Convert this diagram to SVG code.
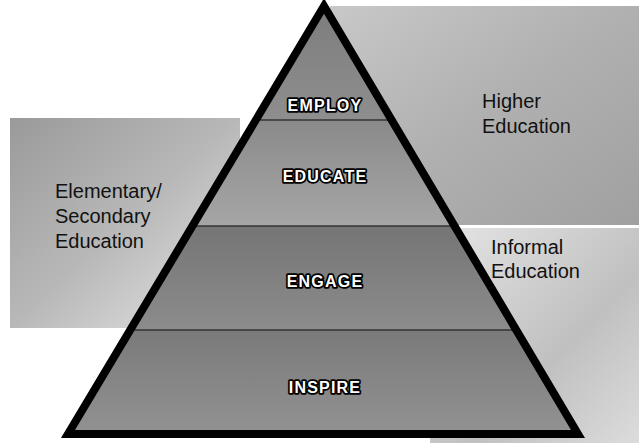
<svg xmlns="http://www.w3.org/2000/svg" width="639" height="443" viewBox="0 0 639 443">
<style>
.side{font-family:"Liberation Sans",Arial,sans-serif;font-size:20px;fill:#111}
.lvl{font-family:"Liberation Sans",Arial,sans-serif;font-size:16px;font-weight:bold;letter-spacing:1.2px;fill:#fff;stroke:#000;stroke-width:3.5px;paint-order:stroke;stroke-linejoin:round;text-anchor:middle}
.div{stroke:#333;stroke-width:1.5}
</style>
<defs>
<linearGradient id="gL" x1="0" y1="0" x2="1" y2="1">
<stop offset="0" stop-color="#9a9a9a"/>
<stop offset="0.5" stop-color="#b8b8b8"/>
<stop offset="1" stop-color="#e8e8e8"/>
</linearGradient>
<linearGradient id="gR" x1="0" y1="0" x2="1" y2="1">
<stop offset="0" stop-color="#c8c8c8"/>
<stop offset="0.5" stop-color="#b0b0b0"/>
<stop offset="1" stop-color="#a0a0a0"/>
</linearGradient>
<linearGradient id="gI" x1="0" y1="0" x2="1" y2="1">
<stop offset="0" stop-color="#e6e6e6"/>
<stop offset="0.6" stop-color="#c0c0c0"/>
<stop offset="1" stop-color="#dcdcdc"/>
</linearGradient>
<linearGradient id="gB1" x1="0" y1="0" x2="0" y2="1">
<stop offset="0" stop-color="#7c7c7c"/>
<stop offset="1" stop-color="#8e8e8e"/>
</linearGradient>
<linearGradient id="gB2" x1="0" y1="0" x2="0" y2="1">
<stop offset="0" stop-color="#8a8a8a"/>
<stop offset="1" stop-color="#a6a6a6"/>
</linearGradient>
<linearGradient id="gB3" x1="0" y1="0" x2="0" y2="1">
<stop offset="0" stop-color="#757575"/>
<stop offset="1" stop-color="#8c8c8c"/>
</linearGradient>
<linearGradient id="gB4" x1="0" y1="0" x2="0" y2="1">
<stop offset="0" stop-color="#7a7a7a"/>
<stop offset="1" stop-color="#949494"/>
</linearGradient>
<clipPath id="tri"><polygon points="324,6 68,434 578,434"/></clipPath>
</defs>
<rect width="639" height="443" fill="#fff"/>
<g id="higher-education">
<rect x="330" y="6" width="309" height="219" fill="url(#gR)"/>
<text class="side" x="482" y="108">Higher</text>
<text class="side" x="482" y="133">Education</text>
</g>
<g id="informal-education">
<rect x="430" y="228" width="209" height="215" fill="url(#gI)"/>
<text class="side" x="491" y="254">Informal</text>
<text class="side" x="491" y="278">Education</text>
</g>
<g id="elementary-secondary">
<rect x="10" y="118" width="230" height="210" fill="url(#gL)"/>
<text class="side" x="55" y="198">Elementary/</text>
<text class="side" x="55" y="223">Secondary</text>
<text class="side" x="55" y="248">Education</text>
</g>
<g id="pyramid">
<g clip-path="url(#tri)">
<rect x="0" y="0" width="639" height="120" fill="url(#gB1)"/>
<rect x="0" y="120" width="639" height="106" fill="url(#gB2)"/>
<rect x="0" y="226" width="639" height="104" fill="url(#gB3)"/>
<rect x="0" y="330" width="639" height="113" fill="url(#gB4)"/>
<line class="div" x1="0" y1="120" x2="639" y2="120"/>
<line class="div" x1="0" y1="226" x2="639" y2="226"/>
<line class="div" x1="0" y1="330" x2="639" y2="330"/>
</g>
<polygon points="324,6 68,434 578,434" fill="none" stroke="#000" stroke-width="8" stroke-linejoin="miter"/>
</g>
<g id="employ"><text class="lvl" x="325" y="111">EMPLOY</text></g>
<g id="educate"><text class="lvl" x="325" y="182">EDUCATE</text></g>
<g id="engage"><text class="lvl" x="325" y="287">ENGAGE</text></g>
<g id="inspire"><text class="lvl" x="325" y="393">INSPIRE</text></g>
</svg>
